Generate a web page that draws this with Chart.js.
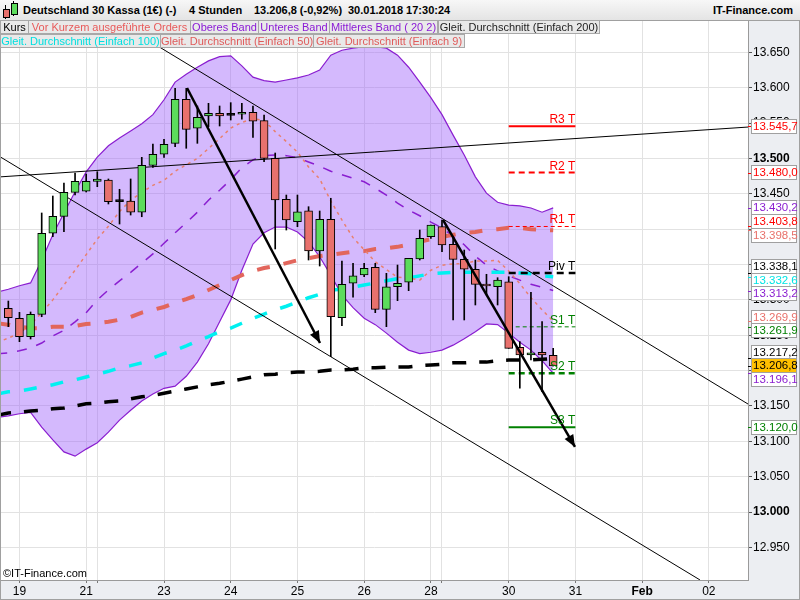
<!DOCTYPE html>
<html>
<head>
<meta charset="utf-8">
<script src="https://cdn.jsdelivr.net/npm/chart.js@4.4.1/dist/chart.umd.min.js"></script>
<style>
  body { margin: 0; background: #fff; font-family: "Liberation Sans", Arial, sans-serif; }
  #wrap { position: relative; width: 800px; height: 600px; overflow: hidden; }
  #c { position: absolute; left: 0; top: 0; }
  #head { position: absolute; left: 0; top: 0; width: 800px; height: 21px; box-sizing: border-box;
          background: linear-gradient(#f7f7f7, #e4e4e4); border-bottom: 1px solid #a0a0a0;
          font: bold 11px "Liberation Sans", Arial, sans-serif; color: #000; }
  #head span { position: absolute; top: 4px; white-space: nowrap; }
  .ico { position: absolute; }
  .lg { position: absolute; height: 14px; box-sizing: border-box; background: #e9e9e9; border: 1px solid #a8a8a8;
        font: 11px "Liberation Sans", Arial, sans-serif; line-height: 12px; text-align: center; white-space: nowrap; overflow: hidden; }
</style>
</head>
<body>
<div id="wrap">
  <canvas id="c" width="800" height="600"></canvas>
  <div id="head">
    <div class="ico" style="left:5px;top:5px;width:1px;height:14px;background:#000"></div>
    <div class="ico" style="left:3px;top:9px;width:5px;height:7px;background:#e8716d;border:1px solid #000"></div>
    <div class="ico" style="left:13px;top:1px;width:1px;height:15px;background:#000"></div>
    <div class="ico" style="left:11px;top:3px;width:5px;height:10px;background:#5cdc5c;border:1px solid #000"></div>
    <span style="left:23px">Deutschland 30 Kassa (1€) (-)</span>
    <span style="left:189px">4 Stunden</span>
    <span style="left:254px">13.206,8 (-0,92%)</span>
    <span style="left:348px">30.01.2018 17:30:24</span>
    <span style="right:7px">IT-Finance.com</span>
  </div>
  <div class="lg" style="left:0;top:20px;width:29px;color:#000">Kurs</div>
  <div class="lg" style="left:28px;top:20px;width:163px;color:#e85a5a">Vor Kurzem ausgeführte Orders</div>
  <div class="lg" style="left:190px;top:20px;width:69px;color:#8b1ad6">Oberes Band</div>
  <div class="lg" style="left:258px;top:20px;width:72px;color:#8b1ad6">Unteres Band</div>
  <div class="lg" style="left:329px;top:20px;width:109px;color:#8b1ad6">Mittleres Band ( 20 2)</div>
  <div class="lg" style="left:438px;top:20px;width:162px;color:#222">Gleit. Durchschnitt (Einfach 200)</div>
  <div class="lg" style="left:0;top:34px;width:161px;color:#00e0e0">Gleit. Durchschnitt (Einfach 100)</div>
  <div class="lg" style="left:160px;top:34px;width:154px;color:#e05a5a">Gleit. Durchschnitt (Einfach 50)</div>
  <div class="lg" style="left:313px;top:34px;width:152px;color:#e05a5a">Gleit. Durchschnitt (Einfach 9)</div>
</div>
<script>
// 4-Stunden-Kerzen, Index 0..49
const openP = [13288.1, 13274.0, 13247.9, 13279.6, 13394.2, 13418.2, 13452.1, 13453.6, 13467.7, 13469.5,
  13438.9, 13439.8, 13423.9, 13490.3, 13505.9, 13521.4, 13583.7, 13542.7, 13560.1, 13563.9,
  13561.0, 13562.5, 13565.3, 13553.4, 13500.2, 13442.2, 13410.6, 13426.1, 13369.1, 13414.0,
  13274.8, 13323.5, 13335.2, 13346.1, 13286.7, 13318.6, 13324.9, 13357.8, 13389.4, 13403.5,
  13378.6, 13357.4, 13343.3, 13322.0, 13318.6, 13325.7, 13232.9, 13222.1, 13225.9, 13221.6];
const highP = [13298.4, 13282.4, 13282.9, 13422.9, 13446.9, 13465.3, 13479.4, 13478.0, 13481.3, 13471.0,
  13456.4, 13471.0, 13501.6, 13520.5, 13527.1, 13599.2, 13599.2, 13574.2, 13578.0, 13574.2,
  13578.9, 13578.0, 13574.2, 13561.5, 13507.7, 13448.3, 13448.3, 13431.8, 13425.7, 13443.7,
  13355.0, 13351.7, 13351.7, 13351.7, 13337.6, 13349.3, 13358.8, 13398.8, 13405.9, 13413.0,
  13389.4, 13370.5, 13356.4, 13336.2, 13331.4, 13332.8, 13240.9, 13310.7, 13269.2, 13231.5];
const lowP = [13262.1, 13240.9, 13244.7, 13276.2, 13389.4, 13396.4, 13448.3, 13452.6, 13460.1, 13435.6,
  13407.3, 13420.0, 13417.6, 13487.5, 13501.6, 13516.6, 13514.4, 13521.4, 13544.9, 13545.9,
  13554.4, 13555.4, 13529.9, 13495.4, 13372.0, 13398.8, 13403.5, 13356.4, 13347.9, 13219.7,
  13263.5, 13303.7, 13332.8, 13281.9, 13262.1, 13298.9, 13313.0, 13356.4, 13387.1, 13368.1,
  13271.6, 13271.6, 13292.8, 13306.9, 13292.8, 13231.5, 13175.0, 13215.0, 13170.2, 13206.5];
const closeP = [13274.8, 13247.9, 13279.6, 13394.2, 13418.2, 13452.1, 13467.7, 13467.7, 13471.0, 13438.9,
  13438.9, 13423.9, 13490.3, 13505.9, 13520.0, 13583.7, 13541.2, 13558.2, 13563.9, 13560.1,
  13561.0, 13565.3, 13552.6, 13500.2, 13441.3, 13413.0, 13424.7, 13369.1, 13414.0, 13276.2,
  13322.0, 13334.2, 13344.7, 13286.7, 13318.6, 13323.5, 13358.8, 13387.1, 13405.9, 13377.6,
  13357.4, 13343.3, 13322.0, 13319.6, 13328.1, 13231.5, 13222.1, 13225.3, 13222.1, 13206.8];

// Indikatoren, Index -1..49
const bandUpper = [13311, 13315, 13320, 13324, 13356, 13392, 13423, 13453, 13481, 13502, 13518,
  13529, 13539, 13549, 13562, 13583, 13608, 13619, 13629, 13638, 13644, 13645, 13631, 13615, 13610,
  13608, 13611, 13614, 13618, 13625, 13646, 13653, 13656, 13658, 13658, 13656, 13646, 13629, 13608,
  13586, 13562, 13533, 13505, 13474, 13451, 13438, 13434, 13433, 13430, 13424, 13430.2];
const bandLower = [13134, 13136, 13139, 13141, 13120, 13102, 13085, 13079, 13089, 13098, 13113,
  13130, 13144, 13157, 13167, 13175, 13178, 13192, 13212, 13238, 13269, 13300, 13342, 13379, 13395,
  13403, 13403, 13396, 13382, 13361, 13335, 13307, 13289, 13274, 13265, 13253, 13240, 13229, 13224,
  13226, 13229, 13236, 13245, 13255, 13266, 13265, 13253, 13240, 13229, 13214, 13196.1];
const bandMid = [13224, 13225, 13228, 13232, 13239, 13249, 13257, 13269, 13282, 13300, 13314,
  13327, 13339, 13352, 13365, 13380, 13395, 13409, 13424, 13441, 13455, 13470, 13487, 13498, 13504,
  13505, 13504, 13501, 13495, 13489, 13482, 13477, 13472, 13467, 13458, 13448, 13437, 13427, 13419,
  13410, 13402, 13390, 13378, 13362, 13349, 13341, 13334, 13328, 13322, 13318, 13313.2];
const sma9 = [13240, 13246, 13253, 13265, 13282, 13300, 13321, 13342, 13364, 13386, 13404,
  13425, 13441, 13452, 13462, 13469, 13482, 13491, 13500, 13514, 13528, 13543, 13551, 13556, 13554,
  13538, 13524, 13509, 13488, 13471, 13440, 13413, 13388, 13371, 13354, 13343, 13332, 13331, 13328,
  13342, 13349, 13351, 13351, 13355, 13355, 13356, 13341, 13323, 13303, 13286, 13269.9];
const sma50 = [13267, 13265, 13262, 13260, 13260, 13262, 13262, 13263, 13266, 13267, 13269,
  13272, 13276, 13282, 13286, 13290, 13296, 13301, 13307, 13314, 13321, 13328, 13335, 13341, 13345,
  13348, 13352, 13356, 13359, 13362, 13364, 13366, 13368, 13369, 13372, 13373, 13375, 13378, 13382,
  13386, 13389, 13392, 13395, 13396, 13399, 13400, 13402, 13402, 13400, 13399, 13398.5];
const sma100 = [13167, 13170, 13171, 13174, 13177, 13180, 13184, 13187, 13191, 13195, 13199,
  13204, 13207, 13211, 13218, 13224, 13229, 13235, 13242, 13248, 13255, 13260, 13267, 13274, 13280,
  13286, 13291, 13297, 13303, 13308, 13314, 13315, 13318, 13321, 13324, 13327, 13330, 13331, 13334,
  13337, 13338, 13339, 13339, 13339, 13339, 13339, 13339, 13338, 13337, 13334, 13332.6];
const sma200 = [13137, 13140, 13141, 13143, 13144, 13146, 13147, 13150, 13153, 13154, 13156,
  13157, 13160, 13163, 13165, 13168, 13171, 13174, 13177, 13180, 13182, 13185, 13188, 13191, 13194,
  13195, 13197, 13198, 13198, 13199, 13201, 13201, 13202, 13204, 13204, 13205, 13205, 13205, 13207,
  13208, 13209, 13211, 13211, 13212, 13212, 13214, 13215, 13215, 13215, 13216, 13217.2];

// Achsen
const dayTicks = [1, 7, 8, 14, 20, 26, 32, 38, 39, 45, 51, 57, 63];
const dayLabels = ['19', '21', '', '23', '24', '25', '26', '28', '', '30', '31', 'Feb', '02'];

// Pivot-Punkte (gelten ab Kerze 45 bis 51)
const pivotNames = ['R3 T', 'R2 T', 'R1 T', 'Piv T', 'S1 T', 'S2 T', 'S3 T'];
const pivotValues = [13545.7, 13480.0, 13403.8, 13338.1, 13261.9, 13196.2, 13120.0];
const pivotRange = [45, 51];

// Trendlinien und Pfeile [index, kurs]
const trendLines = [
  [[-0.7, 13474], [66.6, 13544.5]],
  [[-0.7, 13502], [62.2, 12904]],
  [[12.6, 13667], [66.6, 13152]]
];
const arrows = [
  [[16.07, 13599.7], [28.03, 13239]],
  [[39.09, 13413], [50.96, 13092]]
];

const lastPrice = 13206.8;

const lineIdx = bandUpper.map((_, k) => k - 1);
const pts = arr => arr.map((v, k) => ({ x: lineIdx[k], y: v }));
const seg = p => p.map(([x, y]) => ({ x, y }));

function fmt(v, d) {
  const s = v.toFixed(d || 0).split('.');
  const i = s[0].replace(/\B(?=(\d{3})+(?!\d))/g, '.');
  return d ? i + ',' + s[1] : i;
}

const RED = '#e8716d', GREEN = '#5cdc5c', PURPLE = '#8a1ed0', SALMON = '#e2665c', CYAN = '#00f0f0';
const pivotColors = ['#ff0000', '#ff0000', '#ff0000', '#000000', '#008000', '#008000', '#008000'];
const pivotWidth = [2, 2, 1, 2.5, 1, 2.5, 2];
const pivotDash = [[], [6, 4], [4, 3], [7, 5], [4, 3], [6, 4], []];

function lineSet(data, color, width, dash, order, extra) {
  return Object.assign({
    type: 'line', data, borderColor: color, borderWidth: width, borderDash: dash,
    borderCapStyle: 'butt', pointRadius: 0, fill: false, tension: 0, order
  }, extra || {});
}

const idx = openP.map((_, i) => i);
const bodyColors = idx.map(i => closeP[i] > openP[i] ? GREEN : (closeP[i] < openP[i] ? RED : '#000'));

const datasets = [
  lineSet(pts(bandUpper), PURPLE, 1.2, [], 20, { fill: '+1', backgroundColor: 'rgba(160,100,250,0.45)' }),
  lineSet(pts(bandLower), PURPLE, 1.2, [], 19),
  lineSet(pts(bandMid), PURPLE, 1.5, [10, 10], 18),
  lineSet(pts(sma200), '#000', 3.5, [14, 13], 17),
  lineSet(pts(sma100), CYAN, 3.5, [13, 14], 16),
  lineSet(pts(sma50), SALMON, 4, [13, 14], 15),
  lineSet(pts(sma9), '#e8806e', 1.5, [3, 4], 14)
];
pivotValues.forEach((v, k) => {
  datasets.push(lineSet(seg([[pivotRange[0], v], [pivotRange[1], v]]), pivotColors[k], pivotWidth[k], pivotDash[k], 13));
});
trendLines.forEach(t => datasets.push(lineSet(seg(t), '#000', 1, [], 12)));
datasets.push({
  type: 'bar', data: idx.map(i => ({ x: i, y: [lowP[i], highP[i]] })),
  backgroundColor: '#000', barThickness: 1, grouped: false, order: 5
});
datasets.push({
  type: 'bar', data: idx.map(i => ({ x: i, y: [openP[i], closeP[i]] })),
  backgroundColor: bodyColors, borderColor: '#000', borderWidth: 1, borderSkipped: false,
  barThickness: 8, minBarLength: 2, grouped: false, order: 4
});
arrows.forEach(a => datasets.push(lineSet(seg(a), '#000', 2.5, [], 1)));

// rechte Preis-Etiketten
const tags = [
  { v: pivotValues[0], c: '#ff0000' },
  { v: pivotValues[1], c: '#ff0000' },
  { v: bandUpper[bandUpper.length - 1], c: PURPLE },
  { v: pivotValues[2], c: '#ff0000' },
  { v: sma50[sma50.length - 1], c: '#e8706a' },
  { v: pivotValues[3], c: '#000' },
  { v: sma100[sma100.length - 1], c: '#00e4e4' },
  { v: bandMid[bandMid.length - 1], c: PURPLE },
  { v: sma9[sma9.length - 1], c: '#e8706a' },
  { v: pivotValues[4], c: '#008000' },
  { v: sma200[sma200.length - 1], c: '#000' },
  { v: lastPrice, c: '#000', bg: '#ffc000', top: true },
  { v: bandLower[bandLower.length - 1], c: PURPLE },
  { v: pivotValues[6], c: '#008000' }
];

const decor = {
  id: 'decor',
  beforeDraw(chart) {
    const { ctx, chartArea: a } = chart;
    ctx.save();
    ctx.fillStyle = '#eceef2';
    ctx.fillRect(0, 0, chart.width, chart.height);
    ctx.fillStyle = '#fff';
    ctx.fillRect(a.left, a.top, a.right - a.left, a.bottom - a.top);
    ctx.restore();
  },
  afterDatasetsDraw(chart) {
    const { ctx, chartArea: a } = chart;
    const xs = chart.scales.x, ys = chart.scales.y;
    ctx.save();
    // Pfeilspitzen
    ctx.fillStyle = '#000';
    arrows.forEach(([p0, p1]) => {
      const x0 = xs.getPixelForValue(p0[0]), y0 = ys.getPixelForValue(p0[1]);
      const x1 = xs.getPixelForValue(p1[0]), y1 = ys.getPixelForValue(p1[1]);
      const ang = Math.atan2(y1 - y0, x1 - x0);
      ctx.beginPath();
      ctx.moveTo(x1, y1);
      ctx.lineTo(x1 - 12 * Math.cos(ang) + 5 * Math.sin(ang), y1 - 12 * Math.sin(ang) - 5 * Math.cos(ang));
      ctx.lineTo(x1 - 12 * Math.cos(ang) - 5 * Math.sin(ang), y1 - 12 * Math.sin(ang) + 5 * Math.cos(ang));
      ctx.closePath();
      ctx.fill();
    });
    // Pivot-Beschriftung
    ctx.font = '12px "Liberation Sans", Arial, sans-serif';
    ctx.textAlign = 'right';
    ctx.textBaseline = 'alphabetic';
    pivotNames.forEach((n, k) => {
      ctx.fillStyle = pivotColors[k];
      ctx.fillText(n, xs.getPixelForValue(pivotRange[1]), ys.getPixelForValue(pivotValues[k]) - 3);
    });
    ctx.textAlign = 'left';
    ctx.fillStyle = '#000';
    ctx.font = '11px "Liberation Sans", Arial, sans-serif';
    ctx.fillText('©IT-Finance.com', a.left + 2, a.bottom - 3);
    ctx.restore();
  },
  afterDraw(chart) {
    const { ctx } = chart;
    const ys = chart.scales.y;
    const H = 13.5;
    const items = tags.map(t => Object.assign({}, t, { y: ys.getPixelForValue(t.v) }))
      .sort((p, q) => p.y - q.y);
    items.forEach(it => { it.p = it.y; });
    for (let k = 0; k < 80; k++) {
      for (let j = 0; j < items.length - 1; j++) {
        const gap = items[j + 1].p - items[j].p;
        if (gap < H) {
          const d = (H - gap) / 2;
          items[j].p -= d;
          items[j + 1].p += d;
        }
      }
    }
    ctx.save();
    ctx.font = '11.5px "Liberation Sans", Arial, sans-serif';
    ctx.textBaseline = 'middle';
    ctx.textAlign = 'left';
    const drawTag = it => {
      ctx.strokeStyle = it.c;
      ctx.lineWidth = 1;
      ctx.beginPath();
      ctx.moveTo(748, Math.round(it.y) + 0.5);
      ctx.lineTo(752, Math.round(it.y) + 0.5);
      ctx.stroke();
      const top = Math.round(it.p - 7.5);
      ctx.fillStyle = it.bg || '#fff';
      ctx.fillRect(751, top, 46, 15);
      ctx.strokeStyle = '#a0a0a0';
      ctx.strokeRect(751.5, top + 0.5, 45, 14);
      ctx.fillStyle = it.c;
      ctx.fillText(fmt(it.v, 1), 753, top + 8);
    };
    items.filter(it => !it.top).forEach(drawTag);
    items.filter(it => it.top).forEach(drawTag);
    // Rahmen
    ctx.strokeStyle = '#a0a0a0';
    ctx.strokeRect(0.5, 0.5, chart.width - 1, chart.height - 1);
    ctx.restore();
  }
};

Chart.defaults.font.family = '"Liberation Sans", Arial, sans-serif';
Chart.defaults.color = '#000';

new Chart(document.getElementById('c'), {
  type: 'line',
  data: { datasets },
  options: {
    responsive: false,
    devicePixelRatio: 1,
    animation: false,
    events: [],
    layout: { padding: { left: 1, top: 20, right: 0, bottom: 0 } },
    plugins: { legend: { display: false }, tooltip: { enabled: false } },
    scales: {
      x: {
        type: 'linear', min: -0.66, max: 66.52, offset: false,
        afterFit: s => { s.height = 20; },
        afterBuildTicks: s => { s.ticks = dayTicks.map(v => ({ value: v })); },
        ticks: {
          autoSkip: false, maxRotation: 0, padding: 1,
          callback: (v, i) => dayLabels[i],
          font: c => ({ size: 12, weight: c.tick && c.tick.label === 'Feb' ? 'bold' : 'normal' })
        },
        grid: { color: '#e2e2e2', tickLength: 3, tickColor: '#777', offset: false },
        border: { color: '#9a9a9a' }
      },
      y: {
        position: 'right', min: 12903.9, max: 13695.8,
        afterFit: s => { s.width = 52; },
        afterBuildTicks: s => { s.ticks = s.ticks.filter(t => Math.round(t.value) % 50 === 0); },
        ticks: {
          stepSize: 50, autoSkip: false, padding: 1,
          callback: v => fmt(v),
          font: c => ({ size: 12, weight: c.tick && Math.round(c.tick.value) % 500 === 0 ? 'bold' : 'normal' })
        },
        grid: { color: '#e2e2e2', tickLength: 4, tickColor: '#555' },
        border: { color: '#9a9a9a' }
      }
    }
  },
  plugins: [decor]
});
</script>
</body>
</html>
